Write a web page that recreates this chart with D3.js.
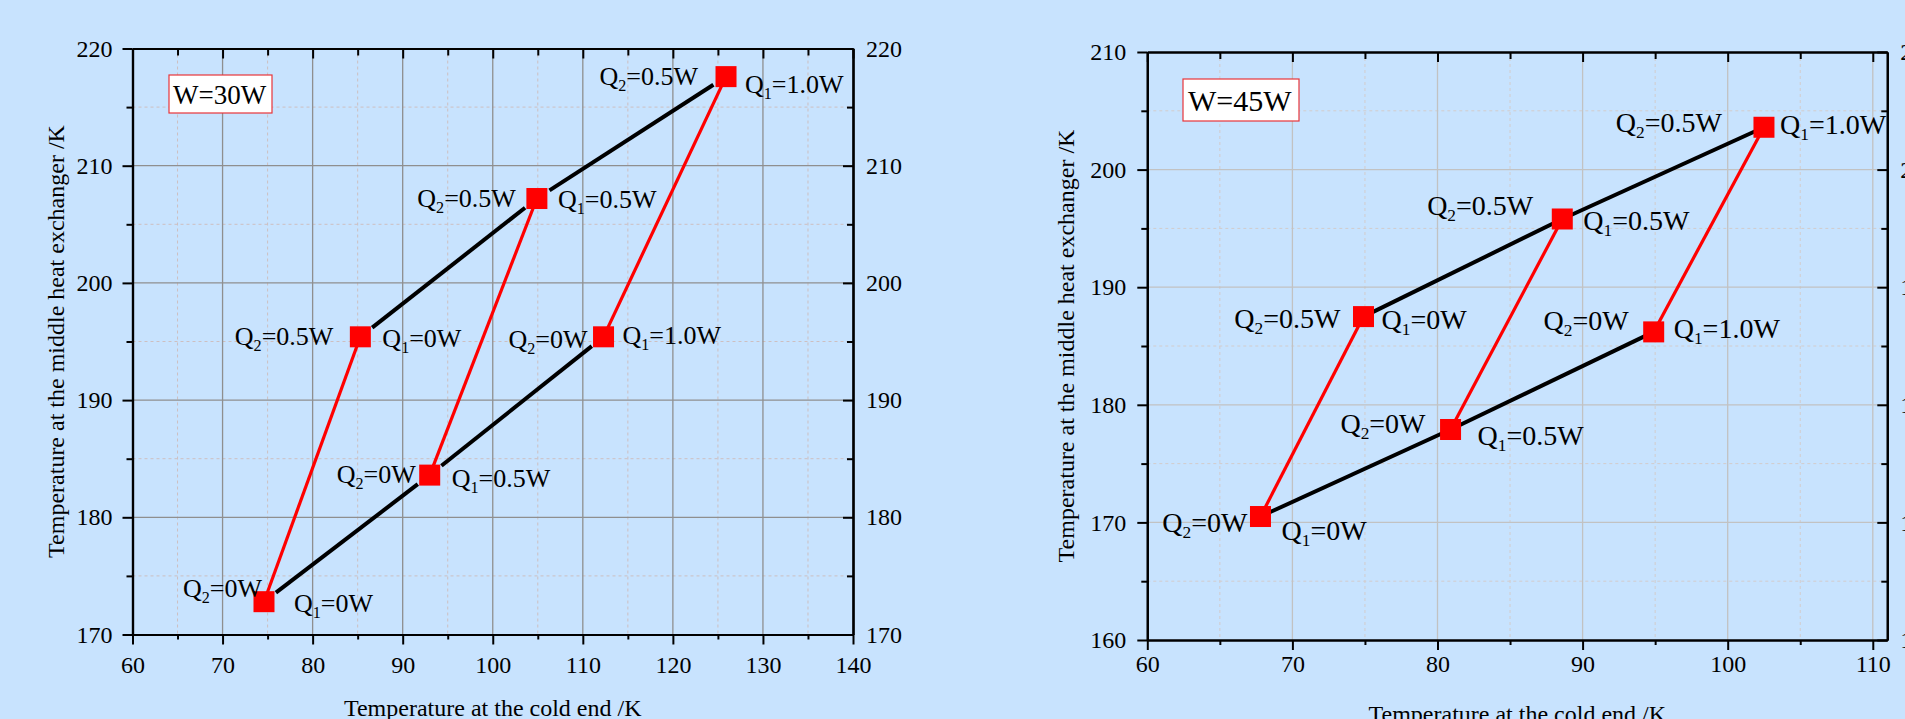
<!DOCTYPE html>
<html lang="en">
<head>
<meta charset="utf-8">
<style>
 body { margin: 0; background: #c8e3fe; }
 svg { display: block; background: #c8e3fe; font-family: "Liberation Serif", "Times New Roman", serif; }
</style>
<title></title>
</head>
<body>
<script src="https://d3js.org/d3.v7.min.js"></script>
<script>

// levels of the two heat loads
var q1Levels = ["0W", "0.5W", "1.0W"];
var q2Levels = ["0W", "0.5W"];

// W=30W, rows are Q2 = 0W and Q2 = 0.5W, columns follow q1Levels
var cold30 = [[74.6, 93.0, 112.3], [85.3, 104.9, 125.9]];
var mid30  = [[172.8, 183.6, 195.4], [195.4, 207.2, 217.6]];

// W=45W
var cold45 = [[67.8, 80.9, 94.9], [74.9, 88.6, 102.5]];
var mid45  = [[170.5, 177.9, 186.2], [187.5, 195.8, 203.6]];

// tick labels
var xTicks30 = [60, 70, 80, 90, 100, 110, 120, 130, 140];
var yTicks30 = [170, 180, 190, 200, 210, 220];
var xTicks45 = [60, 70, 80, 90, 100, 110];
var yTicks45 = [160, 170, 180, 190, 200, 210];

var xTitle = "Temperature at the cold end /K";
var yTitle = "Temperature at the middle heat exchanger /K";

var svg = d3.select("body").append("svg")
    .attr("width", 1905)
    .attr("height", 719);

var panels = [
  {
    name: "W=30W", cold: cold30, mid: mid30,
    xTicks: xTicks30, yTicks: yTicks30, xDomain: [60, 140], yDomain: [170, 220],
    left: 132.5, right: 853, top: 48.5, bottom: 634.5,
    gridMajor: "#8f8f8f", gridMinor: "#cdbfc0",
    gap: 15, labelSize: 26, boxSize: 27,
    box: { x: 169, y: 75, w: 103, h: 38, tx: 173, ty: 104 },
    padBottom: 11, padLeft: 10, padRight: 13,
    xTitleY: 716, yTitleX: 64,
    // [dx, dy] of the Q2 label (end) and Q1 label (start) around each marker
    offs: [
      [{ l: [-2, -5], r: [30, 10] }, { l: [-14, 8], r: [22, 12] }, { l: [-16, 11], r: [19, 7] }],
      [{ l: [-27, 8], r: [22, 10] }, { l: [-21, 8], r: [21, 9] }, { l: [-28, 8], r: [19, 16] }]
    ]
  },
  {
    name: "W=45W", cold: cold45, mid: mid45,
    xTicks: xTicks45, yTicks: yTicks45, xDomain: [60, 111], yDomain: [160, 210],
    left: 1147.3, right: 1887.3, top: 52, bottom: 640,
    gridMajor: "#c2c2c2", gridMinor: "#d2cccc",
    gap: 0, labelSize: 28, boxSize: 30,
    box: { x: 1183, y: 79, w: 116, h: 42, tx: 1188, ty: 111 },
    padBottom: 5, padLeft: 11, padRight: 13,
    xTitleY: 722, yTitleX: 1074,
    offs: [
      [{ l: [-13, 15], r: [21, 23] }, { l: [-25, 4], r: [27, 16] }, { l: [-25, -2], r: [20, 6] }],
      [{ l: [-23, 11], r: [18, 12] }, { l: [-29, -4], r: [21, 11] }, { l: [-42, 5], r: [16, 7] }]
    ]
  }
];

function minorOf(ticks) {
  var out = [];
  for (var i = 0; i < ticks.length - 1; i++) out.push((ticks[i] + ticks[i + 1]) / 2);
  return out;
}

function styleAxis(g, showText) {
  g.selectAll("path.domain").attr("stroke", "#000").attr("stroke-width", 2.2);
  g.selectAll(".tick line").attr("stroke", "#000").attr("stroke-width", 2);
  g.selectAll(".tick text").attr("font-size", 24).attr("fill", "#000")
    .attr("font-family", "Liberation Serif, Times New Roman, serif");
  if (!showText) g.selectAll(".tick text").remove();
}

panels.forEach(function(p) {
  var x = d3.scaleLinear().domain(p.xDomain).range([p.left, p.right]);
  var y = d3.scaleLinear().domain(p.yDomain).range([p.bottom, p.top]);
  var xMinor = minorOf(p.xTicks).concat(p.xDomain[1] > p.xTicks[p.xTicks.length - 1] + 4 ? [p.xTicks[p.xTicks.length - 1] + 5] : []);
  var yMinor = minorOf(p.yTicks);

  var g = svg.append("g");

  // grid
  g.append("g").selectAll("line.vmin").data(xMinor).enter().append("line")
    .attr("x1", x).attr("x2", x).attr("y1", p.top).attr("y2", p.bottom)
    .attr("stroke", p.gridMinor).attr("stroke-width", 1).attr("stroke-dasharray", "3,3");
  g.append("g").selectAll("line.hmin").data(yMinor).enter().append("line")
    .attr("y1", y).attr("y2", y).attr("x1", p.left).attr("x2", p.right)
    .attr("stroke", p.gridMinor).attr("stroke-width", 1).attr("stroke-dasharray", "3,3");
  g.append("g").selectAll("line.vmaj").data(p.xTicks.slice(1, -1).concat(p.xDomain[1] > p.xTicks[p.xTicks.length - 1] ? [p.xTicks[p.xTicks.length - 1]] : [])).enter().append("line")
    .attr("x1", x).attr("x2", x).attr("y1", p.top).attr("y2", p.bottom)
    .attr("stroke", p.gridMajor).attr("stroke-width", 1.3);
  g.append("g").selectAll("line.hmaj").data(p.yTicks.slice(1, -1)).enter().append("line")
    .attr("y1", y).attr("y2", y).attr("x1", p.left).attr("x2", p.right)
    .attr("stroke", p.gridMajor).attr("stroke-width", 1.3);

  // label box
  g.append("rect")
    .attr("x", p.box.x).attr("y", p.box.y).attr("width", p.box.w).attr("height", p.box.h)
    .attr("fill", "#fff").attr("stroke", "#e8353a").attr("stroke-width", 1.2);
  g.append("text")
    .attr("x", p.box.tx).attr("y", p.box.ty)
    .attr("font-size", p.boxSize).attr("fill", "#000")
    .text(p.name);

  // axes: minor ticks
  var minB = g.append("g").attr("transform", "translate(0," + p.bottom + ")")
    .call(d3.axisBottom(x).tickValues(xMinor).tickSize(5).tickSizeOuter(0).tickFormat(""));
  styleAxis(minB, false);
  var minT = g.append("g").attr("transform", "translate(0," + p.top + ")")
    .call(d3.axisTop(x).tickValues(xMinor).tickSize(-7).tickSizeOuter(0).tickFormat(""));
  styleAxis(minT, false);
  var minL = g.append("g").attr("transform", "translate(" + p.left + ",0)")
    .call(d3.axisLeft(y).tickValues(yMinor).tickSize(6).tickSizeOuter(0).tickFormat(""));
  styleAxis(minL, false);
  var minR = g.append("g").attr("transform", "translate(" + p.right + ",0)")
    .call(d3.axisRight(y).tickValues(yMinor).tickSize(-6).tickSizeOuter(0).tickFormat(""));
  styleAxis(minR, false);

  // axes: major ticks
  var ab = g.append("g").attr("transform", "translate(0," + p.bottom + ")")
    .call(d3.axisBottom(x).tickValues(p.xTicks).tickSize(10).tickSizeOuter(0).tickPadding(p.padBottom).tickFormat(d3.format("d")));
  styleAxis(ab, true);
  var at = g.append("g").attr("transform", "translate(0," + p.top + ")")
    .call(d3.axisTop(x).tickValues(p.xTicks).tickSize(-10).tickSizeOuter(0).tickFormat(""));
  styleAxis(at, false);
  var al = g.append("g").attr("transform", "translate(" + p.left + ",0)")
    .call(d3.axisLeft(y).tickValues(p.yTicks).tickSize(10).tickSizeOuter(0).tickPadding(p.padLeft).tickFormat(d3.format("d")));
  styleAxis(al, true);
  var ar = g.append("g").attr("transform", "translate(" + p.right + ",0)")
    .call(d3.axisRight(y).tickValues(p.yTicks).tickSize(-10).tickSizeOuter(0).tickPadding(p.padRight).tickFormat(d3.format("d")));
  styleAxis(ar, true);

  // axis titles
  g.append("text")
    .attr("x", (p.left + p.right) / 2).attr("y", p.xTitleY)
    .attr("text-anchor", "middle").attr("font-size", 24).text(xTitle);
  g.append("text")
    .attr("transform", "translate(" + p.yTitleX + "," + ((p.top + p.bottom) / 2) + ") rotate(-90)")
    .attr("text-anchor", "middle").attr("font-size", 24).text(yTitle);

  // points as pixel positions
  var pts = p.cold.map(function(row, i) {
    return row.map(function(c, j) {
      return { q2: i, q1: j, px: x(c), py: y(p.mid[i][j]) };
    });
  });

  // black lines: constant Q2 (with a gap near the markers)
  pts.forEach(function(row) {
    for (var j = 0; j < row.length - 1; j++) {
      var a = row[j], b = row[j + 1];
      var dx = b.px - a.px, dy = b.py - a.py, len = Math.sqrt(dx * dx + dy * dy);
      var ux = dx / len, uy = dy / len;
      g.append("line")
        .attr("x1", a.px + ux * p.gap).attr("y1", a.py + uy * p.gap)
        .attr("x2", b.px - ux * p.gap).attr("y2", b.py - uy * p.gap)
        .attr("stroke", "#000").attr("stroke-width", 4);
    }
  });

  // red lines: constant Q1
  q1Levels.forEach(function(q, j) {
    g.append("line")
      .attr("x1", pts[0][j].px).attr("y1", pts[0][j].py)
      .attr("x2", pts[1][j].px).attr("y2", pts[1][j].py)
      .attr("stroke", "#ff0000").attr("stroke-width", 3.2);
  });

  // markers
  var flat = pts[0].concat(pts[1]);
  g.append("g").selectAll("rect").data(flat).enter().append("rect")
    .attr("x", function(d) { return d.px - 10.5; })
    .attr("y", function(d) { return d.py - 10.5; })
    .attr("width", 21).attr("height", 21)
    .attr("fill", "#ff0000");

  // labels
  function label(d, idx, val, anchor, off) {
    var t = g.append("text")
      .attr("x", d.px + off[0]).attr("y", d.py + off[1])
      .attr("text-anchor", anchor).attr("font-size", p.labelSize).attr("fill", "#000");
    t.append("tspan").text("Q");
    t.append("tspan").attr("font-size", p.labelSize * 0.62).attr("dy", 6).text(idx);
    t.append("tspan").attr("dy", -6).text("=" + val);
  }
  flat.forEach(function(d) {
    var o = p.offs[d.q2][d.q1];
    label(d, "2", q2Levels[d.q2], "end", o.l);
    label(d, "1", q1Levels[d.q1], "start", o.r);
  });
});

</script>
</body>
</html>
